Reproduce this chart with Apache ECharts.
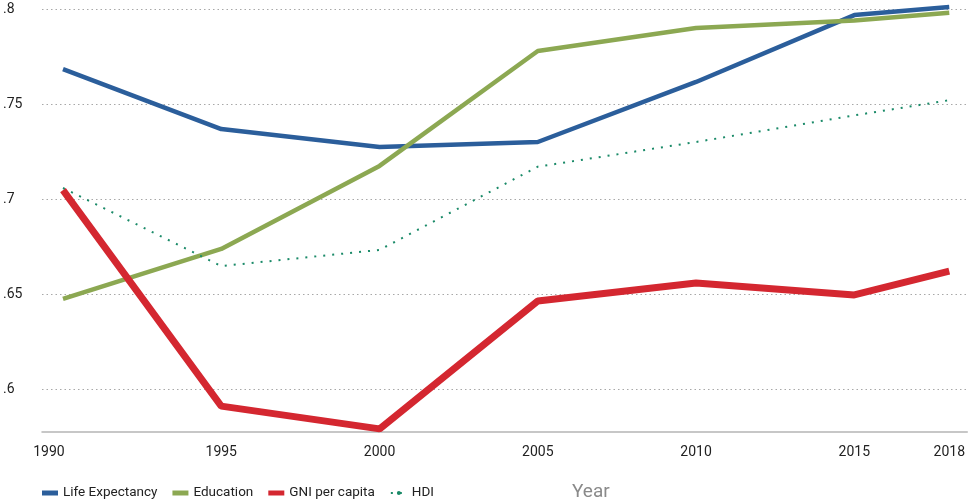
<!DOCTYPE html>
<html><head><meta charset="utf-8">
<script src="https://cdn.jsdelivr.net/npm/echarts@6/dist/echarts.min.js"></script>
<style>html,body{margin:0;padding:0;background:#fff}#c{width:968px;height:500px}</style>
</head><body><div id="c"></div>
<script>
const years = [1990, 1995, 2000, 2005, 2010, 2015, 2018];
const lifeExpectancy = [0.7684, 0.7368, 0.7274, 0.7300, 0.7616, 0.7968, 0.8010];
const education = [0.6474, 0.6737, 0.7174, 0.7779, 0.7900, 0.7940, 0.7980];
const gniPerCapita = [0.7047, 0.5910, 0.5790, 0.6463, 0.6558, 0.6495, 0.6620];
const hdi = [0.7058, 0.6647, 0.6732, 0.7170, 0.7300, 0.7440, 0.7520];
const xTicks = [1990, 1995, 2000, 2005, 2010, 2015, 2018];
const yTicks = [0.6, 0.65, 0.7, 0.75, 0.8];
const yTickLabels = ['.6', '.65', '.7', '.75', '.8'];

const pairs = arr => years.map((y, i) => [y, arr[i]]);
const font = 'Roboto';
const chart = echarts.init(document.getElementById('c'), null, {renderer: 'canvas'});
chart.setOption({
  animation: false,
  backgroundColor: '#fff',
  textStyle: {fontFamily: font},
  grid: {left: 42, right: 0, top: 0, bottom: 68, containLabel: false},
  title: {text: 'Year', left: 567, top: 478,
    textStyle: {fontFamily: font, fontSize: 19, fontWeight: 'normal', color: '#8a8a8a'}},
  legend: {
    left: 37, top: 481, itemGap: 15, itemWidth: 16, itemHeight: 5,
    textStyle: {fontFamily: font, fontSize: 13.5, color: '#222'},
    data: [
      {name: 'Life Expectancy', icon: 'rect'},
      {name: 'Education', icon: 'rect'},
      {name: 'GNI per capita', icon: 'rect'},
      {name: 'HDI'}
    ]
  },
  xAxis: {
    type: 'value', min: 1989.337, max: 2018.568,
    axisLine: {show: true, lineStyle: {color: '#b5b5b5', width: 1.5}},
    axisTick: {show: false, customValues: xTicks},
    splitLine: {show: false},
    axisLabel: {
      customValues: xTicks, margin: 13, fontSize: 14, color: '#222', fontFamily: font,
      formatter: v => v === 1990 ? '{a|1990}' : String(v),
      rich: {a: {padding: [0, 28, 0, 0], fontSize: 14, color: '#222', fontFamily: font}}
    }
  },
  yAxis: {
    type: 'value', min: 0.57737, max: 0.80474,
    axisLine: {show: false},
    axisTick: {show: false, customValues: yTicks},
    splitLine: {show: true, lineStyle: {color: '#a8a8a8', type: [1.5, 3], width: 1}},
    axisLabel: {
      customValues: yTicks, align: 'left', margin: 39, fontSize: 14, color: '#222', fontFamily: font,
      formatter: v => yTickLabels[yTicks.findIndex(t => Math.abs(t - v) < 1e-6)] || ''
    }
  },
  series: [
    {name: 'Life Expectancy', type: 'line', data: pairs(lifeExpectancy), symbol: 'none', clip: false,
      color: '#2b5e9b', lineStyle: {width: 4.5, color: '#2b5e9b'}},
    {name: 'Education', type: 'line', data: pairs(education), symbol: 'none', clip: false,
      color: '#8ca852', lineStyle: {width: 4.5, color: '#8ca852'}},
    {name: 'GNI per capita', type: 'line', data: pairs(gniPerCapita), symbol: 'none', clip: false,
      color: '#d42730', lineStyle: {width: 7, color: '#d42730'}},
    {name: 'HDI', type: 'line', data: pairs(hdi), symbol: 'none', clip: false,
      color: '#1a8a68', lineStyle: {width: 2, color: '#1a8a68', type: [2, 7]}}
  ]
});
</script></body></html>
